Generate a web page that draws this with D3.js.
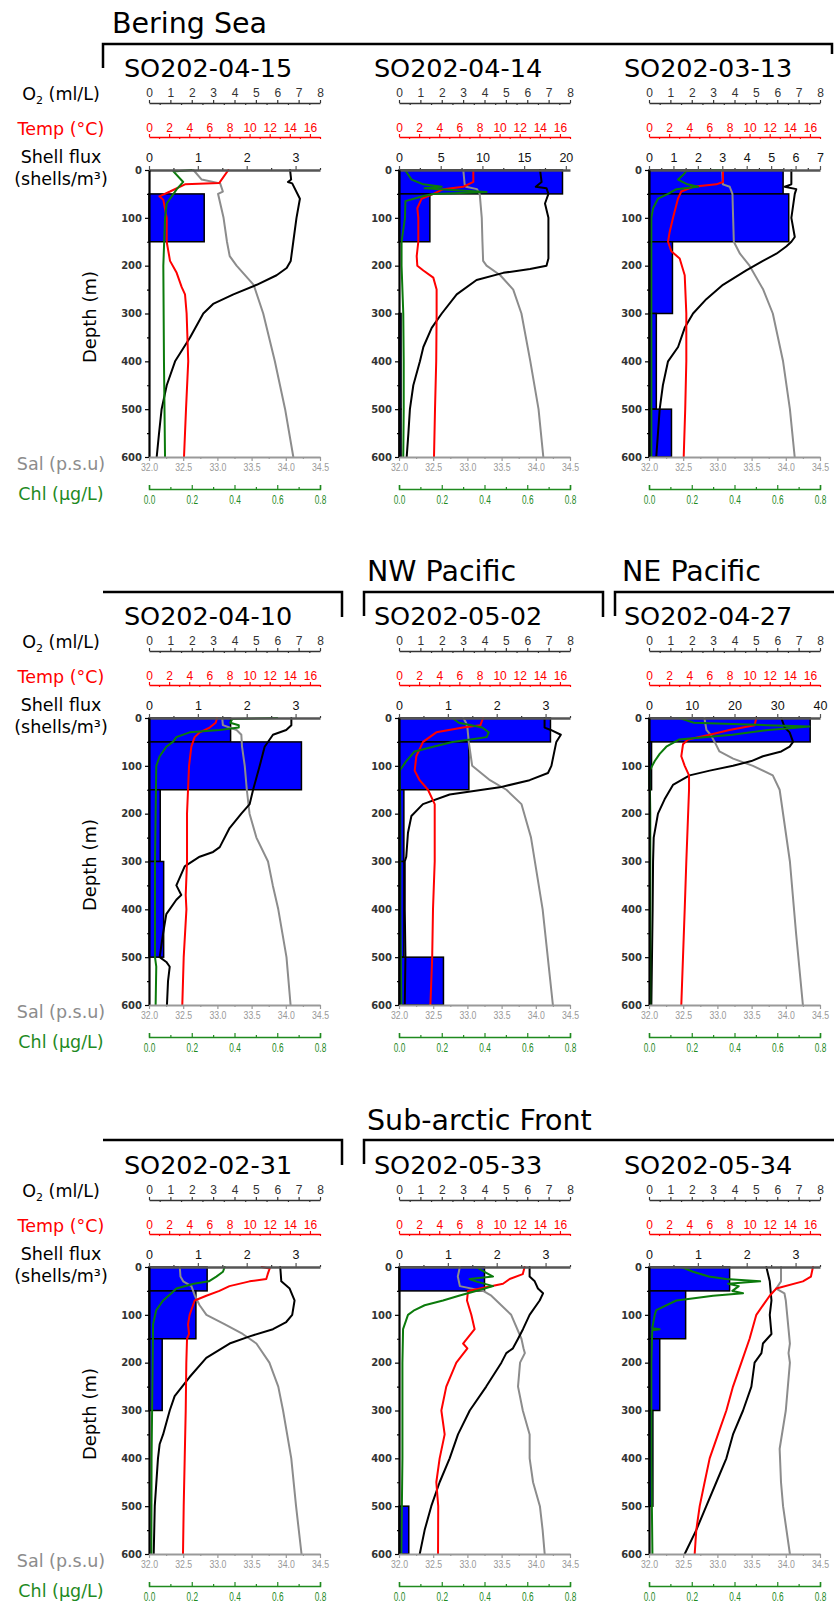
<!DOCTYPE html>
<html><head><meta charset="utf-8">
<script src="https://cdn.jsdelivr.net/npm/d3@7"></script>
<style>body{margin:0;background:#fff} svg{display:block}</style>
</head><body><svg id="c" width="834" height="1607"></svg>
<script>
// ---------------- DATA ----------------
const stations = ["SO202-04-15","SO202-04-14","SO202-03-13","SO202-04-10","SO202-05-02","SO202-04-27","SO202-02-31","SO202-05-33","SO202-05-34"];
const fluxMax = [3.5, 20.5, 7, 3.5, 3.5, 40, 3.5, 3.5, 3.5];
const fluxTicks = [[0,1,2,3],[0,5,10,15,20],[0,1,2,3,4,5,6,7],[0,1,2,3],[0,1,2,3],[0,10,20,30,40],[0,1,2,3],[0,1,2,3],[0,1,2,3]];
const fluxMinor = [[0.5,1.5,2.5,3.5],[2.5,7.5,12.5,17.5],[0.5,1.5,2.5,3.5,4.5,5.5,6.5],[0.5,1.5,2.5,3.5],[0.5,1.5,2.5,3.5],[5,15,25,35],[0.5,1.5,2.5,3.5],[0.5,1.5,2.5,3.5],[0.5,1.5,2.5,3.5]];
const depthBins = [[0,50],[50,150],[150,300],[300,500],[500,600]];
const shellFlux = [
  [0, 1.13, 0, 0, 0],
  [19.6, 3.7, 0, 0.25, 0.25],
  [5.49, 5.72, 0.96, 0.3, 0.92],
  [1.67, 3.12, 0.23, 0.3, 0],
  [3.1, 1.43, 0.1, 0.1, 0.91],
  [37.7, 0.6, 0, 0, 0],
  [1.19, 0.96, 0.27, 0, 0],
  [1.75, 0, 0, 0, 0.2],
  [1.65, 0.75, 0.22, 0.08, 0]
];
const o2Ticks = [0,1,2,3,4,5,6,7,8];
const o2Minor = [0.5,1.5,2.5,3.5,4.5,5.5,6.5,7.5];
const tempTicks = [0,2,4,6,8,10,12,14,16];
const tempMinor = [1,3,5,7,9,11,13,15,17];
const depthTicks = [0,100,200,300,400,500,600];
const depthMinor = [50,150,250,350,450,550];
const salTicks = [32,32.5,33,33.5,34,34.5];
const salMinor = [32.25,32.75,33.25,33.75,34.25];
const chlTicks = [0,0.2,0.4,0.6,0.8];
const chlMinor = [0.1,0.3,0.5,0.7];

// profiles: [depth (m), value]
const o2Profiles = [
  [[0,6.6],[20,6.65],[25,6.5],[28,6.7],[60,7.06],[100,6.9],[150,6.75],[190,6.63],[205,6.44],[220,5.97],[240,5.04],[260,3.95],[280,3.0],[300,2.54],[350,1.92],[400,1.22],[450,0.83],[500,0.59],[550,0.47],[600,0.36]],
  [[0,6.6],[25,6.67],[35,6.4],[38,6.9],[50,6.99],[70,6.83],[100,6.99],[150,6.99],[185,6.99],[200,6.9],[207,6.13],[215,4.88],[230,3.63],[260,2.7],[300,2.0],[330,1.53],[370,1.14],[400,0.98],[450,0.67],[500,0.51],[550,0.44],[600,0.36]],
  [[0,6.66],[30,6.66],[35,6.35],[40,6.89],[50,6.82],[100,6.66],[140,6.82],[150,6.66],[160,6.42],[175,5.96],[190,5.33],[210,4.55],[240,3.46],[270,2.68],[300,2.06],[330,1.67],[370,1.36],[400,0.89],[450,0.65],[500,0.5],[550,0.42],[600,0.34]],
  [[0,6.66],[15,6.66],[25,6.42],[35,5.8],[60,5.41],[100,5.18],[150,4.87],[180,4.71],[200,4.32],[230,3.77],[270,3.31],[280,3.0],[290,2.37],[310,1.67],[350,1.28],[370,1.51],[380,1.28],[410,0.81],[450,0.66],[500,0.5],[510,0.81],[520,0.97],[550,0.89],[600,0.84]],
  [[0,6.81],[20,6.81],[25,7.1],[35,7.57],[50,7.36],[100,7.13],[115,6.97],[130,6.11],[145,4.71],[160,2.37],[180,1.12],[205,0.58],[240,0.42],[290,0.34],[300,0.27],[400,0.27],[500,0.3],[600,0.27]],
  [[0,6.19],[20,6.35],[30,6.58],[50,6.74],[60,6.58],[70,6.19],[80,5.33],[90,4.79],[100,3.93],[110,2.84],[120,1.9],[140,1.12],[170,0.73],[200,0.42],[250,0.22],[300,0.19],[400,0.17],[600,0.11]],
  [[0,6.14],[30,6.19],[45,6.58],[70,6.81],[100,6.7],[115,6.42],[130,5.8],[145,4.71],[160,3.77],[190,2.68],[230,1.9],[270,1.2],[300,0.97],[350,0.66],[370,0.5],[400,0.42],[500,0.27],[600,0.22]],
  [[0,6.11],[20,6.11],[30,6.35],[45,6.5],[55,6.74],[70,6.58],[100,6.11],[130,5.8],[150,5.57],[170,5.33],[180,5.02],[200,4.79],[250,4.08],[300,3.31],[350,2.76],[400,2.37],[450,1.9],[500,1.51],[550,1.2],[600,0.97]],
  [[0,5.49],[30,5.65],[70,5.73],[100,5.65],[140,5.73],[160,5.33],[180,5.26],[200,4.94],[250,4.79],[300,4.4],[350,3.93],[400,3.62],[450,3.15],[500,2.68],[550,2.21],[600,1.67]]
];
const tempProfiles = [
  [[0,7.89],[20,7.22],[27,7.0],[30,3.58],[45,2.09],[55,1.03],[62,1.42],[100,1.76],[150,1.76],[190,2.09],[215,2.75],[245,3.25],[260,3.58],[300,3.74],[400,3.9],[500,3.68],[600,3.48]],
  [[0,7.39],[25,7.39],[35,6.4],[40,4.41],[50,3.41],[60,2.25],[80,1.82],[100,1.92],[150,1.92],[180,1.76],[200,1.82],[210,2.42],[225,3.41],[250,3.74],[300,3.74],[400,3.7],[500,3.58],[600,3.48]],
  [[0,7.36],[25,7.36],[30,6.69],[35,4.37],[45,3.21],[60,2.88],[100,2.39],[130,2.05],[150,1.89],[170,2.22],[185,3.05],[220,3.55],[300,3.71],[400,3.71],[500,3.6],[600,3.45]],
  [[0,6.76],[10,6.63],[20,6.03],[30,5.04],[40,4.54],[60,4.21],[100,3.98],[150,3.88],[200,3.78],[300,3.78],[370,3.65],[400,3.72],[500,3.45],[600,3.31]],
  [[0,8.35],[15,8.1],[20,6.37],[30,3.71],[50,2.39],[80,1.72],[110,1.56],[130,2.05],[150,2.88],[180,3.55],[300,3.55],[400,3.38],[500,3.3],[600,3.12]],
  [[0,10.67],[15,10.5],[25,8.0],[35,6.03],[45,3.88],[55,3.38],[80,3.21],[100,3.55],[120,3.98],[150,3.98],[300,3.71],[400,3.55],[600,3.21]],
  [[0,11.2],[3,12.0],[15,11.8],[25,11.66],[30,10.0],[40,8.0],[50,7.0],[60,5.7],[70,4.54],[100,4.04],[120,3.88],[140,3.98],[150,3.78],[200,3.71],[300,3.65],[400,3.55],[500,3.45],[600,3.38]],
  [[0,12.49],[15,12.3],[25,11.0],[35,10.34],[50,6.86],[70,6.76],[100,7.19],[130,7.52],[160,6.37],[170,6.8],[200,5.7],[250,4.7],[300,4.21],[350,4.54],[400,4.04],[450,3.71],[500,3.9],[600,3.88]],
  [[0,16.3],[20,16.1],[30,15.3],[45,12.66],[60,12.0],[75,11.5],[100,10.67],[150,10.0],[200,9.18],[250,8.35],[300,7.69],[350,6.86],[400,6.03],[450,5.53],[500,5.04],[550,4.7],[600,4.54]]
];
const salProfiles = [
  [[0,32.65],[20,32.77],[28,33.04],[45,33.08],[50,33.01],[100,33.09],[150,33.14],[180,33.18],[200,33.28],[240,33.53],[300,33.67],[400,33.84],[500,33.99],[600,34.11]],
  [[0,32.94],[30,32.96],[35,32.98],[40,33.14],[50,33.18],[100,33.21],[150,33.22],[190,33.23],[200,33.28],[220,33.48],[250,33.67],[300,33.79],[400,33.92],[500,34.04],[600,34.11]],
  [[0,33.07],[30,33.08],[35,33.18],[50,33.22],[100,33.23],[150,33.24],[175,33.33],[200,33.47],[250,33.67],[300,33.81],[400,33.96],[500,34.06],[600,34.13]],
  [[0,33.07],[15,33.08],[25,33.28],[35,33.35],[60,33.36],[100,33.4],[150,33.43],[200,33.47],[250,33.57],[300,33.74],[350,33.81],[400,33.89],[500,34.01],[600,34.07]],
  [[0,32.94],[10,32.98],[20,33.0],[50,33.02],[100,33.07],[130,33.33],[150,33.57],[180,33.79],[250,33.93],[400,34.1],[600,34.25]],
  [[0,32.81],[25,32.84],[35,32.9],[50,32.96],[70,33.03],[85,33.23],[100,33.52],[120,33.81],[150,33.91],[300,34.06],[450,34.15],[600,34.25]],
  [[0,32.45],[20,32.46],[30,32.5],[40,32.62],[60,32.67],[80,32.74],[100,32.84],[120,33.11],[140,33.37],[160,33.57],[200,33.76],[250,33.89],[300,33.96],[400,34.08],[500,34.15],[600,34.23]],
  [[0,32.89],[20,32.86],[40,32.89],[50,33.23],[60,33.35],[100,33.64],[150,33.79],[170,33.82],[180,33.84],[200,33.77],[250,33.74],[300,33.81],[350,33.91],[400,33.91],[450,33.96],[500,34.06],[550,34.1],[600,34.13]],
  [[0,33.93],[30,33.93],[45,33.86],[55,33.98],[70,34.0],[100,34.02],[130,34.04],[160,34.06],[180,34.04],[200,34.06],[300,34.0],[380,33.91],[450,33.93],[500,33.96],[600,34.06]]
];
const chlProfiles = [
  [[0,0.2],[3,0.114],[25,0.16],[40,0.13],[70,0.083],[100,0.075],[200,0.067],[400,0.07],[600,0.075]],
  [[0,0.028],[20,0.059],[30,0.114],[35,0.2],[38,0.12],[42,0.25],[46,0.41],[50,0.16],[55,0.11],[65,0.03],[100,0.028],[150,0.012],[200,0.012],[300,0.02],[400,0.022],[500,0.022],[600,0.02]],
  [[0,0.34],[2,0.175],[10,0.16],[20,0.136],[30,0.18],[35,0.23],[40,0.128],[50,0.089],[60,0.042],[80,0.019],[100,0.011],[200,0.011],[400,0.011],[600,0.011]],
  [[0,0.6],[2,0.39],[10,0.38],[15,0.42],[20,0.42],[25,0.33],[30,0.19],[40,0.128],[50,0.112],[60,0.081],[80,0.05],[100,0.034],[200,0.031],[300,0.028],[500,0.028],[520,0.034],[600,0.031]],
  [[0,0.25],[10,0.28],[20,0.39],[30,0.42],[40,0.41],[50,0.25],[60,0.16],[70,0.073],[90,0.034],[110,0.003],[200,0.006],[400,0.006],[600,0.011]],
  [[0,0.143],[10,0.21],[15,0.55],[18,0.75],[25,0.56],[35,0.39],[45,0.14],[60,0.081],[75,0.05],[90,0.027],[110,0.003],[200,0.006],[600,0.006]],
  [[0,0.354],[10,0.346],[20,0.315],[30,0.28],[35,0.21],[45,0.128],[55,0.105],[70,0.066],[90,0.034],[120,0.019],[200,0.017],[400,0.012],[600,0.011]],
  [[0,0.36],[10,0.4],[20,0.44],[25,0.33],[30,0.36],[40,0.44],[50,0.36],[60,0.28],[70,0.206],[80,0.12],[90,0.073],[100,0.042],[130,0.019],[200,0.016],[400,0.016],[600,0.011]],
  [[0,0.151],[10,0.206],[20,0.28],[25,0.36],[30,0.52],[35,0.37],[40,0.42],[50,0.39],[55,0.44],[60,0.3],[65,0.22],[70,0.128],[90,0.034],[100,0.027],[128,0.015],[130,0.05],[132,0.015],[200,0.011],[400,0.011],[600,0.016]]
];
const regionNames = ["Bering Sea","NW Pacific","NE Pacific","Sub-arctic Front"];

// ---------------- DRAWING ----------------
const svg = d3.select("#c");
const colLeft = [149, 399, 649], rowTop = [170, 718, 1267], W = 171, H = 287;
const LS = "'Liberation Sans', Arial, sans-serif";
const DV = "'DejaVu Sans', Verdana, sans-serif";
const RED = "#ff0000", GRAY = "#8c8c8c", GREEN = "#1f8a1f", LINEGREEN = "#0b7a0b";

function styleAxis(g, color, width, font, size, weight) {
  g.attr("font-family", font).attr("font-size", size);
  g.select(".domain").attr("stroke", color).attr("stroke-width", width);
  g.selectAll(".tick line").attr("stroke", color).attr("stroke-width", 1.2);
  g.selectAll(".tick text").attr("fill", color).attr("font-weight", weight || "normal");
  return g;
}
function minorAxis(g, axis) {
  g.call(axis.tickFormat(""));
  g.select(".domain").remove();
  return g;
}

// region headers and brackets
const hdr = svg.append("g").attr("font-family", DV).attr("font-size", 28.5).attr("fill", "#000");
hdr.append("text").attr("x", 112).attr("y", 33).text(regionNames[0]);
hdr.append("text").attr("x", 367).attr("y", 581).text(regionNames[1]);
hdr.append("text").attr("x", 622).attr("y", 581).text(regionNames[2]);
hdr.append("text").attr("x", 367).attr("y", 1130).text(regionNames[3]);
const brackets = [
  "M103,68 V44 H832 V54",
  "M103,592 H342 V617",
  "M364,616 V592 H603 V617",
  "M615,616 V592 H834",
  "M103,1140 H342 V1165",
  "M364,1164 V1140 H834"
];
svg.append("g").selectAll("path").data(brackets).join("path")
  .attr("d", d => d).attr("fill", "none").attr("stroke", "#000").attr("stroke-width", 2.5);

stations.forEach((name, i) => {
  const r = Math.floor(i / 3), c = i % 3;
  const L = colLeft[c], T = rowTop[r], R = L + W, B = T + H;
  const y = d3.scaleLinear().domain([0, 600]).range([T, B]);
  const xO2 = d3.scaleLinear().domain([0, 8]).range([L, R]);
  const xT = d3.scaleLinear().domain([0, 17]).range([L, R]);
  const xF = d3.scaleLinear().domain([0, fluxMax[i]]).range([L, R]);
  const xS = d3.scaleLinear().domain([32, 34.5]).range([L, R]);
  const xC = d3.scaleLinear().domain([0, 0.8]).range([L, R]);
  const g = svg.append("g");

  // station title
  g.append("text").attr("x", L + 59).attr("y", T - 93).attr("text-anchor", "middle")
    .attr("font-family", DV).attr("font-size", 25.5).text(name);

  // shell flux bars
  const bars = shellFlux[i].map((v, k) => ({ v, d0: depthBins[k][0], d1: depthBins[k][1] })).filter(d => d.v > 0);
  g.append("g").selectAll("rect").data(bars).join("rect")
    .attr("x", xF(0)).attr("y", d => y(d.d0))
    .attr("width", d => xF(d.v) - xF(0)).attr("height", d => y(d.d1) - y(d.d0))
    .attr("fill", "#0000ff").attr("stroke", "#000").attr("stroke-width", 1.5);

  // profiles
  const series = [[salProfiles, xS, GRAY], [o2Profiles, xO2, "#000"], [tempProfiles, xT, RED], [chlProfiles, xC, LINEGREEN]];
  series.forEach(([P, xs, col]) => {
    g.append("path").datum(P[i])
      .attr("d", d3.line().x(d => xs(d[1])).y(d => y(d[0])))
      .attr("fill", "none").attr("stroke", col).attr("stroke-width", 2)
      .attr("stroke-linejoin", "round").attr("stroke-linecap", "round");
  });

  // O2 axis
  minorAxis(g.append("g").attr("transform", `translate(0,${T - 67})`),
    d3.axisTop(xO2).tickValues(o2Minor).tickSizeInner(-2).tickSizeOuter(0))
    .selectAll("line").attr("stroke", "#333").attr("stroke-width", 1.2);
  styleAxis(g.append("g").attr("transform", `translate(0,${T - 67})`)
    .call(d3.axisTop(xO2).tickValues(o2Ticks).tickSizeInner(3).tickSizeOuter(0).tickPadding(3).tickFormat(d3.format("d"))),
    "#333", 1.5, LS, 12);

  // Temp axis
  minorAxis(g.append("g").attr("transform", `translate(0,${T - 33})`),
    d3.axisTop(xT).tickValues(tempMinor).tickSizeInner(-2).tickSizeOuter(0))
    .selectAll("line").attr("stroke", RED).attr("stroke-width", 1.2);
  styleAxis(g.append("g").attr("transform", `translate(0,${T - 33})`)
    .call(d3.axisTop(xT).tickValues(tempTicks).tickSizeInner(3).tickSizeOuter(0).tickPadding(2).tickFormat(d3.format("d"))),
    RED, 1.5, LS, 12);

  // Shell flux axis (top of plot)
  minorAxis(g.append("g").attr("transform", `translate(0,${T})`),
    d3.axisTop(xF).tickValues(fluxMinor[i]).tickSizeInner(2).tickSizeOuter(0))
    .selectAll("line").attr("stroke", "#333").attr("stroke-width", 1.2);
  styleAxis(g.append("g").attr("transform", `translate(0,${T})`)
    .call(d3.axisTop(xF).tickValues(fluxTicks[i]).tickSizeInner(4).tickSizeOuter(0).tickPadding(4).tickFormat(d3.format("d"))),
    "#555", 2.5, LS, 12.5).selectAll(".tick text").attr("fill", "#111");

  // Depth axis
  minorAxis(g.append("g").attr("transform", `translate(${L},0)`),
    d3.axisLeft(y).tickValues(depthMinor).tickSizeInner(2).tickSizeOuter(0))
    .selectAll("line").attr("stroke", "#000").attr("stroke-width", 1.2);
  styleAxis(g.append("g").attr("transform", `translate(${L},0)`)
    .call(d3.axisLeft(y).tickValues(depthTicks).tickSizeInner(4).tickSizeOuter(0).tickPadding(3).tickFormat(d3.format("d"))),
    "#000", 2.2, DV, 10, "bold").selectAll(".tick text").attr("fill", "#333");

  // Salinity axis (bottom)
  minorAxis(g.append("g").attr("transform", `translate(0,${B})`),
    d3.axisBottom(xS).tickValues(salMinor).tickSizeInner(2).tickSizeOuter(0))
    .selectAll("line").attr("stroke", "#999").attr("stroke-width", 1.2);
  styleAxis(g.append("g").attr("transform", `translate(0,${B})`)
    .call(d3.axisBottom(xS).tickValues(salTicks).tickSizeInner(4).tickSizeOuter(0).tickPadding(2).tickFormat(d3.format(".1f"))),
    "#999", 1.8, LS, 11).selectAll(".tick text").attr("textLength", 17).attr("lengthAdjust", "spacingAndGlyphs");

  // Chl axis
  minorAxis(g.append("g").attr("transform", `translate(0,${B + 32})`),
    d3.axisBottom(xC).tickValues(chlMinor).tickSizeInner(-2).tickSizeOuter(0))
    .selectAll("line").attr("stroke", GREEN).attr("stroke-width", 1.2);
  styleAxis(g.append("g").attr("transform", `translate(0,${B + 32})`)
    .call(d3.axisBottom(xC).tickValues(chlTicks).tickSizeInner(-4).tickSizeOuter(-4).tickPadding(6).tickFormat(d3.format(".1f"))),
    GREEN, 1.5, LS, 12).selectAll(".tick text").attr("textLength", 11.5).attr("lengthAdjust", "spacingAndGlyphs");

  // left-hand axis titles (first column only)
  if (c === 0) {
    const lab = g.append("g").attr("font-family", DV).attr("font-size", 17.5).attr("text-anchor", "middle");
    const o2t = lab.append("text").attr("x", 61).attr("y", T - 70);
    o2t.append("tspan").text("O");
    o2t.append("tspan").attr("font-size", 11).attr("dy", 4).text("2");
    o2t.append("tspan").attr("dy", -4).text(" (ml/L)");
    lab.append("text").attr("x", 61).attr("y", T - 35).attr("fill", RED).text("Temp (°C)");
    lab.append("text").attr("x", 61).attr("y", T - 7).text("Shell flux");
    lab.append("text").attr("x", 61).attr("y", T + 15).text("(shells/m³)");
    lab.append("text").attr("transform", `translate(96,${T + 147}) rotate(-90)`).attr("font-size", 18).text("Depth (m)");
    lab.append("text").attr("x", 61).attr("y", B + 13).attr("fill", GRAY).text("Sal (p.s.u)");
    lab.append("text").attr("x", 61).attr("y", B + 43).attr("fill", GREEN).text("Chl (µg/L)");
  }
});
</script>
</body></html>
